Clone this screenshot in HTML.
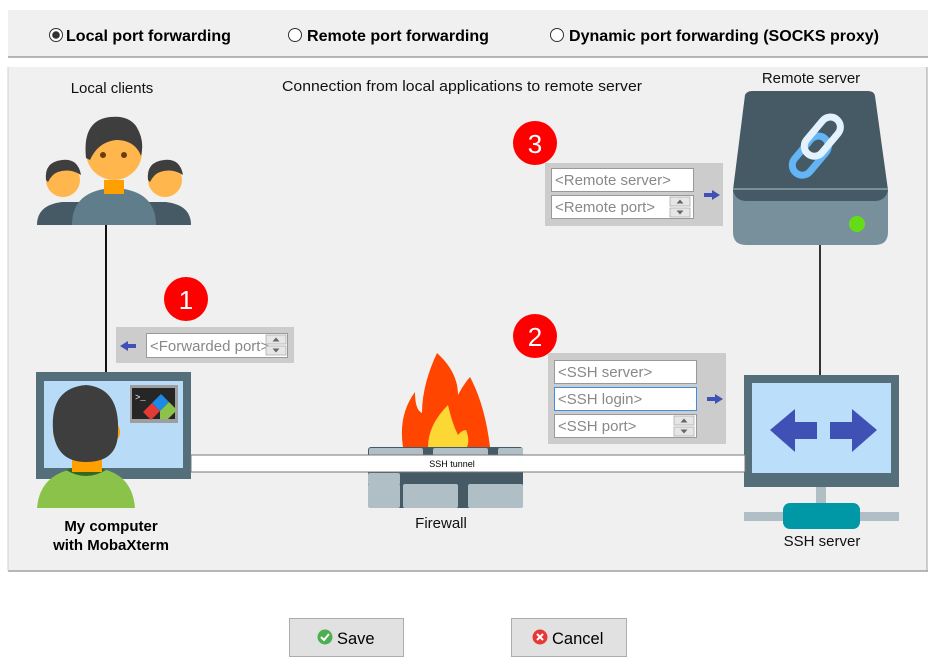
<!DOCTYPE html>
<html><head><meta charset="utf-8"><style>
html,body{margin:0;padding:0;background:#fff;width:941px;height:671px;overflow:hidden}
svg{display:block;font-family:"Liberation Sans",Arial,sans-serif}
</style></head><body>
<svg width="941" height="671" viewBox="0 0 941 671" xmlns="http://www.w3.org/2000/svg">
<defs>
<g id="spin"><rect x="0" y="0" width="20" height="9" fill="#e6e6e6" stroke="#adadad" stroke-width="0.8"/><path d="M6.5 6.5 L10 2.5 L13.5 6.5Z" fill="#666"/><rect x="0" y="11" width="20" height="9" fill="#e6e6e6" stroke="#adadad" stroke-width="0.8"/><path d="M6.5 13.5 L10 17.5 L13.5 13.5Z" fill="#666"/></g>
</defs>
<!-- top panel -->
<rect x="8" y="10" width="920" height="47" fill="#f0f0f0"/>
<line x1="8" y1="57" x2="928" y2="57" stroke="#a0a0a0" stroke-width="1.5"/>
<circle cx="56" cy="35" r="6.5" fill="#fff" stroke="#333"/><circle cx="56" cy="35" r="3.8" fill="#333"/>
<text x="66" y="41" font-size="16" font-weight="bold" fill="#000" textLength="165" lengthAdjust="spacingAndGlyphs">Local port forwarding</text>
<circle cx="295" cy="35" r="6.5" fill="#fff" stroke="#333"/>
<text x="307" y="41" font-size="16" font-weight="bold" fill="#000" textLength="182" lengthAdjust="spacingAndGlyphs">Remote port forwarding</text>
<circle cx="557" cy="35" r="6.5" fill="#fff" stroke="#333"/>
<text x="569" y="41" font-size="16" font-weight="bold" fill="#000" textLength="310" lengthAdjust="spacingAndGlyphs">Dynamic port forwarding (SOCKS proxy)</text>

<!-- main panel -->
<rect x="8" y="67" width="919" height="504" fill="#f0f0f0"/>
<line x1="927" y1="67" x2="927" y2="571" stroke="#a0a0a0"/>
<line x1="8" y1="571" x2="928" y2="571" stroke="#a0a0a0" stroke-width="1.5"/>
<line x1="8" y1="67" x2="8" y2="571" stroke="#d0d0d0"/>

<text x="112" y="93" font-size="15" text-anchor="middle" fill="#111">Local clients</text>
<text x="462" y="91" font-size="15" text-anchor="middle" fill="#111" textLength="360" lengthAdjust="spacingAndGlyphs">Connection from local applications to remote server</text>
<text x="811" y="83" font-size="15" text-anchor="middle" fill="#111">Remote server</text>

<!-- connectors -->
<line x1="106" y1="225" x2="106" y2="373" stroke="#111" stroke-width="2"/>
<line x1="820" y1="245" x2="820" y2="376" stroke="#333" stroke-width="2"/>

<!-- people -->
<path d="M37 225 Q37 205 62 202 L80 202 L80 225Z" fill="#455a64"/>
<circle cx="63" cy="180" r="17" fill="#ffb74d"/>
<path d="M46 180 Q44 162 62 160 Q78 158 81 175 Q70 168 58 172 Q52 174 48 182Z" fill="#3e3e3e"/>
<path d="M191 225 Q191 205 166 202 L148 202 L148 225Z" fill="#455a64"/>
<circle cx="165" cy="180" r="17" fill="#ffb74d"/>
<path d="M148 180 Q146 162 164 160 Q180 158 183 175 Q172 168 160 172 Q154 174 150 182Z" fill="#3e3e3e"/>
<path d="M72 225 Q72 190 114 188 Q156 190 156 225Z" fill="#607d8b"/>
<rect x="104" y="180" width="20" height="14" fill="#ffa000"/>
<circle cx="114" cy="152" r="28" fill="#ffb74d"/>
<path d="M86 158 Q82 120 110 117 Q128 115 136 126 Q145 140 141 156 Q135 140 116 140 Q98 142 90 160Z" fill="#3e3e3e"/>
<circle cx="103" cy="155" r="3" fill="#6d3b10"/><circle cx="124" cy="155" r="3" fill="#6d3b10"/>

<!-- my computer -->
<rect x="36" y="372" width="155" height="107" fill="#546e7a"/>
<rect x="44" y="381" width="139" height="87" fill="#b8dcf7"/>
<path d="M37 508 Q40 472 80 468 L96 468 Q132 472 135 508Z" fill="#8bc34a"/>
<path d="M66 470 Q86 462 106 470 Q86 482 66 470Z" fill="#33691e"/>
<rect x="72" y="456" width="30" height="16" fill="#ffa000"/>
<ellipse cx="58" cy="432" rx="5" ry="8" fill="#ffa000"/><ellipse cx="115" cy="432" rx="5" ry="8" fill="#ffa000"/>
<path d="M53 430 Q50 388 86 385 Q120 388 118 432 Q118 462 86 462 Q56 462 53 430Z" fill="#3e3e3e"/>
<rect x="130" y="385" width="48" height="38" fill="#9e9e9e"/>
<rect x="132" y="388" width="43" height="31" fill="#262626"/>
<text x="135" y="400" font-size="9" fill="#fff" font-family="Liberation Mono,monospace">&gt;_</text>
<path d="M143 412 L152 403 L160 411 L151 420Z" fill="#e53935"/>
<path d="M152 403 L161 394 L169 402 L160 411Z" fill="#1e88e5"/>
<path d="M160 411 L169 402 L177 410 L168 419 L160 419 Z" fill="#8bc34a"/>
<text x="111" y="531" font-size="15" font-weight="bold" text-anchor="middle" fill="#000">My computer</text>
<text x="111" y="550" font-size="15" font-weight="bold" text-anchor="middle" fill="#000">with MobaXterm</text>

<!-- forwarded port -->
<circle cx="186" cy="299" r="22" fill="#f00"/>
<text x="186" y="309" font-size="26" text-anchor="middle" fill="#fff">1</text>
<rect x="116" y="327" width="178" height="36" fill="#cccccc"/>
<path d="M120 346 L128 341 L128 344 L136 344 L136 348 L128 348 L128 351Z" fill="#3f51b5"/>
<rect x="146.5" y="333.5" width="141" height="24" fill="#fff" stroke="#999"/>
<text x="150" y="351" font-size="15" fill="#888">&lt;Forwarded port&gt;</text>
<use href="#spin" x="266" y="335"/>

<!-- remote box -->
<circle cx="535" cy="143" r="22" fill="#f00"/>
<text x="535" y="153" font-size="26" text-anchor="middle" fill="#fff">3</text>
<rect x="545" y="163" width="178" height="63" fill="#cccccc"/>
<rect x="551.5" y="168.5" width="142" height="23" fill="#fff" stroke="#999"/>
<text x="555" y="185" font-size="15" fill="#888">&lt;Remote server&gt;</text>
<rect x="551.5" y="195.5" width="142" height="23" fill="#fff" stroke="#999"/>
<text x="555" y="212" font-size="15" fill="#888">&lt;Remote port&gt;</text>
<use href="#spin" x="670" y="197"/>
<path d="M720 195 L712 190 L712 193 L704 193 L704 197 L712 197 L712 200Z" fill="#3f51b5"/>

<!-- remote server icon -->
<path d="M745 95 Q747 91 752 91 L868 91 Q874 91 875 96 L888 190 L733 190Z" fill="#455a64"/>
<path d="M733 188 L888 188 L888 232 Q888 245 875 245 L746 245 Q733 245 733 232Z" fill="#78909c"/>
<path d="M733 190 Q735 200 745 201 L876 201 Q886 200 888 190Z" fill="#455a64"/>
<circle cx="857" cy="224" r="8" fill="#64dd17"/>
<rect x="788" y="146" width="45" height="20" rx="10" fill="none" stroke="#64b5f6" stroke-width="7" transform="rotate(-50 810 156)"/>
<rect x="800" y="127" width="45" height="20" rx="10" fill="none" stroke="#e3f2fd" stroke-width="7" transform="rotate(-50 822 137)"/>

<!-- SSH box -->
<circle cx="535" cy="336" r="22" fill="#f00"/>
<text x="535" y="346" font-size="26" text-anchor="middle" fill="#fff">2</text>
<rect x="548" y="353" width="178" height="91" fill="#cccccc"/>
<rect x="554.5" y="360.5" width="142" height="23" fill="#fff" stroke="#999"/>
<text x="558" y="377" font-size="15" fill="#888">&lt;SSH server&gt;</text>
<rect x="554.5" y="387.5" width="142" height="23" fill="#fff" stroke="#3b8ee0"/>
<text x="558" y="404" font-size="15" fill="#888">&lt;SSH login&gt;</text>
<rect x="554.5" y="414.5" width="142" height="23" fill="#fff" stroke="#999"/>
<text x="558" y="431" font-size="15" fill="#888">&lt;SSH port&gt;</text>
<use href="#spin" x="674" y="416"/>
<path d="M723 399 L715 394 L715 397 L707 397 L707 401 L715 401 L715 404Z" fill="#3f51b5"/>

<!-- SSH server -->
<rect x="816" y="486" width="10" height="20" fill="#b0bec5"/>
<rect x="744" y="512" width="155" height="9" fill="#b0bec5"/>
<rect x="783" y="503" width="77" height="26" rx="7" fill="#0097a7"/>
<rect x="744" y="375" width="155" height="112" fill="#546e7a"/>
<rect x="752" y="383" width="139" height="90" fill="#bbdefb"/>
<path d="M770 430 L795 409 L795 422 L817 422 L817 439 L795 439 L795 452Z" fill="#3f51b5"/>
<path d="M877 430 L852 409 L852 422 L830 422 L830 439 L852 439 L852 452Z" fill="#3f51b5"/>
<text x="822" y="546" font-size="15" text-anchor="middle" fill="#111">SSH server</text>

<!-- firewall -->
<path d="M403 447 Q398 415 415 392 Q415 410 422 413 Q422 385 437 353 Q458 372 458 395 Q463 385 470 377 Q485 405 490 447Z" fill="#ff4500"/>
<path d="M428 447 Q428 425 448 405 Q452 423 458 435 Q462 430 466 430 Q470 440 467 447Z" fill="#fdd835"/>
<rect x="368" y="447" width="155" height="61" rx="3" fill="#455a64"/>
<rect x="369" y="448" width="54" height="12" rx="2" fill="#b0bec5"/>
<rect x="433" y="448" width="55" height="12" rx="2" fill="#b0bec5"/>
<rect x="498" y="448" width="25" height="12" rx="2" fill="#b0bec5"/>
<rect x="368" y="473" width="32" height="12" rx="2" fill="#b0bec5"/>
<rect x="368" y="484" width="32" height="24" rx="2" fill="#b0bec5"/>
<rect x="403" y="484" width="55" height="24" rx="2" fill="#b0bec5"/>
<rect x="468" y="484" width="55" height="24" rx="2" fill="#b0bec5"/>
<text x="441" y="528" font-size="15" text-anchor="middle" fill="#111">Firewall</text>

<!-- tunnel -->
<rect x="191" y="455" width="554" height="17" fill="#fff" stroke="#777"/>
<text x="452" y="467" font-size="9" text-anchor="middle" fill="#000">SSH tunnel</text>

<!-- buttons -->
<rect x="289.5" y="618.5" width="114" height="38" fill="#e1e1e1" stroke="#adadad"/>
<circle cx="325" cy="637" r="7.5" fill="#4caf50"/>
<path d="M321 637 L324 640 L329 634" fill="none" stroke="#fff" stroke-width="2"/>
<text x="337" y="644" font-size="16.5" fill="#000">Save</text>
<rect x="511.5" y="618.5" width="115" height="38" fill="#e1e1e1" stroke="#adadad"/>
<circle cx="540" cy="637" r="7.5" fill="#e53935"/>
<path d="M537 634 L543 640 M543 634 L537 640" stroke="#fff" stroke-width="2"/>
<text x="552" y="644" font-size="16.5" fill="#000">Cancel</text>
</svg>
</body></html>
